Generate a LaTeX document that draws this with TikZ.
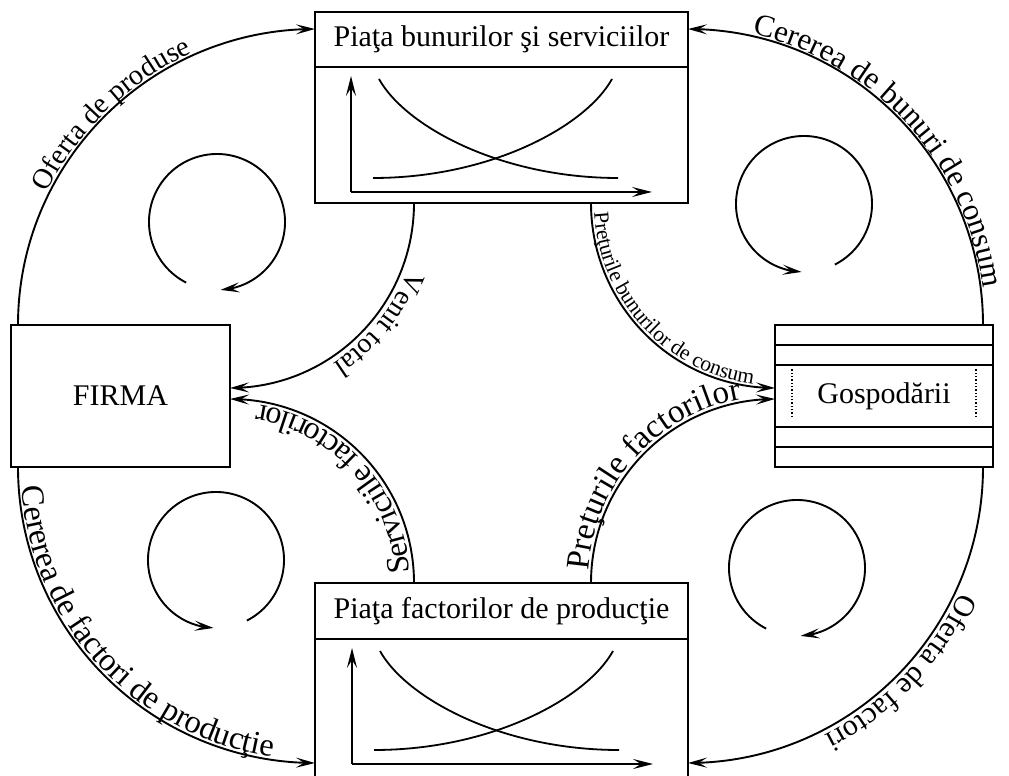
\documentclass[tikz,border=0pt]{standalone}
\usepackage{fontspec}
\setmainfont{Liberation Serif}
\usetikzlibrary{arrows.meta,bending,decorations.text}

\newcommand{\fs}[1]{\fontsize{#1}{#1}\selectfont}

\begin{document}
\begin{tikzpicture}[x=1pt,y=1pt,
  box/.style={draw, line width=2.2pt, inner sep=0pt, outer sep=0pt},
  rule/.style={line width=2.2pt},
  tip/.style={-{Stealth[length=19pt,width=10pt,inset=8pt,flex]}},
  flow/.style={line width=1.9pt, tip},
  cyc/.style={line width=1.9pt, tip},
  axis/.style={line width=1.7pt, -{Stealth[length=20pt,width=10pt,inset=8pt]}},
  curve/.style={line width=1.8pt},
  label/.style={font=\fs{30}},
  chart/.pic={
    \draw[axis] (0,0) -- (0,116);
    \draw[axis] (0,0) -- (301,0);
    \draw[curve] (28,113) .. controls (54,66) and (149,14) .. (267,14);
    \draw[curve] (261,113) .. controls (235,66) and (140,14) .. (22,14);
  }
]
\useasboundingbox (0,0) rectangle (1009,776);

% ---- boxes ----
\node[box, minimum width=373pt, minimum height=191pt] (top) at (501.5,668.5) {};
\draw[rule] ([yshift=-55pt]top.north west) -- ([yshift=-55pt]top.north east);
\node[label] (toptitle) at (501.5,736.5) {Piaţa bunurilor şi serviciilor};
\pic at (351,584) {chart};

\node[box, minimum width=373pt, minimum height=196pt] (bot) at (501.5,95) {};
\draw[rule] ([yshift=-56pt]bot.north west) -- ([yshift=-56pt]bot.north east);
\node[label] (bottitle) at (501.5,165) {Piaţa factorilor de producţie};
\pic at (352,12) {chart};

\node[box, minimum width=219pt, minimum height=142pt, label] (firma) at (120.5,380) {FIRMA};

\node[box, minimum width=218pt, minimum height=142pt, label] (gosp) at (884,380) {Gospodării};
\draw[rule] ([yshift=-20pt]gosp.north west) -- ([yshift=-20pt]gosp.north east);
\draw[rule] ([yshift=-40pt]gosp.north west) -- ([yshift=-40pt]gosp.north east);
\draw[rule] ([yshift=40pt]gosp.south west) -- ([yshift=40pt]gosp.south east);
\draw[rule] ([yshift=20pt]gosp.south west) -- ([yshift=20pt]gosp.south east);
\draw[line width=1.3pt, dotted] ([xshift=17pt,yshift=50pt]gosp.south west) -- ([xshift=17pt,yshift=-43pt]gosp.north west);
\draw[line width=1.3pt, dotted] ([xshift=-17pt,yshift=50pt]gosp.south east) -- ([xshift=-17pt,yshift=-43pt]gosp.north east);

% ---- connector end points ----
\coordinate (op1) at ([xshift=7pt]firma.north west);
\coordinate (op2) at ([yshift=-17pt]top.north west);
\coordinate (cb1) at ([xshift=-10pt]gosp.north east);
\coordinate (cb2) at ([yshift=-17pt]top.north east);
\coordinate (cf1) at ([xshift=7pt]firma.south west);
\coordinate (cf2) at ([yshift=16pt]bot.south west);
\coordinate (of1) at ([xshift=-10pt]gosp.south east);
\coordinate (of2) at ([yshift=16pt]bot.south east);
\coordinate (vt1) at ([xshift=-87.5pt]top.south);
\coordinate (vt2) at ([yshift=8pt]firma.east);
\coordinate (sf1) at ([xshift=-87.5pt]bot.north);
\coordinate (sf2) at ([yshift=-3pt]firma.east);
\coordinate (pb1) at ([xshift=89.5pt]top.south);
\coordinate (pb2) at ([yshift=8pt]gosp.west);
\coordinate (pf1) at ([xshift=89.5pt]bot.north);
\coordinate (pf2) at ([yshift=-3pt]gosp.west);

% ---- outer flows ----
\draw[flow] (op1) to[out=90,in=180] (op2);
\path[decorate, decoration={text along path, text align={left indent=136pt}, raise=2pt,
  text={|\fs{28.5}|Oferta de produse}}] (op1) to[out=90,in=180] (op2);

\draw[flow] (cb1) to[out=90,in=0] (cb2);
\path[decorate, decoration={text along path, text align={left indent=64pt}, raise=2pt,
  text={|\fs{31}|Cererea de bunuri de consum}}] (cb2) to[out=0,in=90] (cb1);

\draw[flow] (cf1) to[out=-90,in=180] (cf2);
\path[decorate, decoration={text along path, text align={left indent=20pt}, raise=3pt,
  text={|\fs{32.5}|Cererea de factori de producţie}}] (cf1) to[out=-90,in=180] (cf2);

\draw[flow] (of1) to[out=-90,in=0] (of2);
\path[decorate, decoration={text along path, text align={left indent=127pt}, raise=5pt,
  text={|\fs{30}|Oferta de factori}}] (of1) to[out=-90,in=0] (of2);

% ---- inner flows ----
\draw[flow] (vt1) to[out=-90,in=0] (vt2);
\path[decorate, decoration={text along path, text align={left indent=66pt}, raise=6pt,
  text={|\fs{28}|Venit total}}] (vt1) to[out=-90,in=0] (vt2);

\draw[flow] (sf1) to[out=90,in=0] (sf2);
\path[decorate, decoration={text along path, text align={left indent=11pt}, raise=4pt,
  text={|\fs{32}|Serviciile factorilor}}] (sf1) to[out=90,in=0] (sf2);

\draw[flow] (pb1) to[out=-90,in=180] (pb2);
\path[decorate, decoration={text along path, text align={left indent=10pt}, raise=3pt,
  text={|\fs{21.5}|Preţurile bunurilor de consum}}] (pb1) to[out=-90,in=180] (pb2);

\draw[flow] (pf1) to[out=90,in=180] (pf2);
\path[decorate, decoration={text along path, text align={left indent=12pt}, raise=3pt,
  text={|\fs{33}|Preţurile factorilor}}] (pf1) to[out=90,in=180] (pf2);

% ---- circulation loops ----
\coordinate (c1) at (217,554);
\coordinate (c2) at (804,572);
\coordinate (c3) at (216,216);
\coordinate (c4) at (797,208);
\draw[cyc] ([shift={(243:68)}]c1) arc[start angle=243, end angle=-87, radius=68];
\draw[cyc] ([shift={(-63:68)}]c2) arc[start angle=-63, end angle=268, radius=68];
\draw[cyc] ([shift={(-63:68)}]c3) arc[start angle=-63, end angle=268, radius=68];
\draw[cyc] ([shift={(243:68)}]c4) arc[start angle=243, end angle=-87, radius=68];
\end{tikzpicture}
\end{document}
